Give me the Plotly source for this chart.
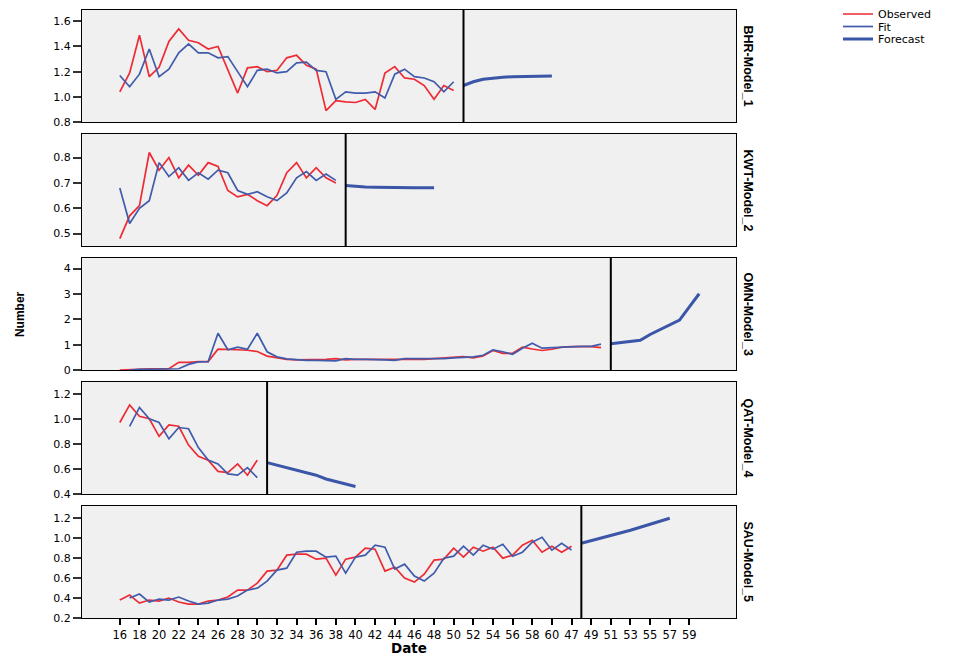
import plotly.graph_objects as go
from plotly.subplots import make_subplots

# ---- tick labels of the Date axis (one label every second period) ----
tick_labels = ["16", "18", "20", "22", "24", "26", "28", "30", "32", "34", "36", "38",
               "40", "42", "44", "46", "48", "50", "52", "54", "56", "58", "60",
               "47", "49", "51", "53", "55", "57", "59"]

# ---- BHR ----
bhr_observed = [1.04, 1.19, 1.49, 1.16, 1.235, 1.44, 1.54, 1.45, 1.43, 1.38, 1.40, 1.22,
                1.03, 1.23, 1.24, 1.20, 1.21, 1.31, 1.33, 1.25, 1.22, 0.89, 0.97, 0.96,
                0.955, 0.98, 0.90, 1.19, 1.24, 1.15, 1.14, 1.09, 0.98, 1.09, 1.05]
bhr_fit = [1.17, 1.08, 1.18, 1.38, 1.16, 1.22, 1.35, 1.42, 1.35, 1.35, 1.31, 1.32,
           1.20, 1.08, 1.21, 1.22, 1.19, 1.20, 1.27, 1.275, 1.21, 1.20, 0.98, 1.04,
           1.03, 1.03, 1.04, 0.99, 1.18, 1.22, 1.16, 1.15, 1.12, 1.04, 1.12]
bhr_forecast = [1.09, 1.12, 1.14, 1.15, 1.155, 1.16, 1.162, 1.164, 1.165, 1.166]

# ---- KWT ----
kwt_observed = [0.48, 0.57, 0.61, 0.82, 0.75, 0.80, 0.72, 0.77, 0.73, 0.78, 0.765, 0.67,
                0.645, 0.655, 0.63, 0.61, 0.65, 0.74, 0.78, 0.72, 0.76, 0.72, 0.70]
kwt_fit = [0.68, 0.54, 0.60, 0.63, 0.78, 0.725, 0.76, 0.71, 0.74, 0.715, 0.75, 0.74,
           0.67, 0.655, 0.665, 0.645, 0.63, 0.66, 0.72, 0.745, 0.71, 0.735, 0.71]
kwt_forecast = [0.69, 0.686, 0.684, 0.683, 0.682, 0.682, 0.681, 0.681, 0.681, 0.681]

# ---- OMN ----
omn_observed = [0.00, 0.02, 0.05, 0.05, 0.05, 0.05, 0.30, 0.30, 0.33, 0.33,
                0.82, 0.82, 0.80, 0.78, 0.73, 0.55, 0.47, 0.42, 0.40, 0.40,
                0.40, 0.42, 0.45, 0.40, 0.42, 0.42, 0.40, 0.42, 0.40, 0.40,
                0.42, 0.42, 0.45, 0.48, 0.50, 0.53, 0.48, 0.55, 0.77, 0.66,
                0.66, 0.90, 0.83, 0.77, 0.82, 0.90, 0.92, 0.92, 0.92, 0.88]
omn_fit = [0.00, 0.03, 0.03, 0.03, 0.03, 0.05, 0.22, 0.32, 0.33,
           1.45, 0.80, 0.90, 0.82, 1.45, 0.72, 0.52, 0.44, 0.40, 0.38,
           0.38, 0.36, 0.36, 0.45, 0.42, 0.42, 0.42, 0.40, 0.38, 0.45,
           0.45, 0.45, 0.45, 0.45, 0.48, 0.50, 0.52, 0.58, 0.79, 0.72,
           0.62, 0.86, 1.06, 0.86, 0.88, 0.90, 0.92, 0.93, 0.93, 1.02]
omn_forecast = [1.04, 1.09, 1.13, 1.17, 1.40, 1.58, 1.78, 1.97, 2.49, 3.01]

# ---- QAT ----
qat_observed = [0.97, 1.11, 1.02, 1.00, 0.86, 0.95, 0.94, 0.79, 0.70, 0.67, 0.58, 0.57,
                0.64, 0.55, 0.67]
qat_fit = [0.94, 1.09, 1.00, 0.97, 0.84, 0.93, 0.92, 0.77, 0.67, 0.64, 0.56, 0.55,
           0.61, 0.53]
qat_forecast = [0.65, 0.63, 0.61, 0.59, 0.57, 0.55, 0.52, 0.50, 0.48, 0.46]

# ---- SAU ----
sau_observed = [0.38, 0.43, 0.35, 0.38, 0.37, 0.40, 0.36, 0.34, 0.34, 0.37,
                0.38, 0.41, 0.48, 0.48, 0.55, 0.67, 0.68, 0.83, 0.84, 0.84,
                0.79, 0.80, 0.63, 0.79, 0.81, 0.90, 0.89, 0.67, 0.71, 0.60,
                0.56, 0.64, 0.78, 0.79, 0.90, 0.81, 0.91, 0.87, 0.91, 0.80,
                0.83, 0.93, 0.98, 0.86, 0.92, 0.86, 0.92]
sau_fit = [0.40, 0.44, 0.36, 0.39, 0.38, 0.41, 0.37, 0.34, 0.35,
           0.38, 0.39, 0.42, 0.48, 0.50, 0.57, 0.68, 0.70, 0.86, 0.87,
           0.87, 0.81, 0.82, 0.65, 0.81, 0.83, 0.93, 0.91, 0.69, 0.74,
           0.62, 0.57, 0.65, 0.80, 0.82, 0.92, 0.83, 0.93, 0.89, 0.94,
           0.82, 0.86, 0.96, 1.01, 0.88, 0.95, 0.88]
sau_forecast = [0.95, 0.975, 1.00, 1.025, 1.05, 1.08, 1.11, 1.14, 1.17, 1.20]

model_names = ["BHR-Model_1", "KWT-Model_2", "OMN-Model_3", "QAT-Model_4", "SAU-Model_5"]
observed_series = [bhr_observed, kwt_observed, omn_observed, qat_observed, sau_observed]
fit_series = [bhr_fit, kwt_fit, omn_fit, qat_fit, sau_fit]
forecast_series = [bhr_forecast, kwt_forecast, omn_forecast, qat_forecast, sau_forecast]

# styling
RED = "#ee2b34"
BLUE = "#405bab"
FC_BLUE = "#3b55a8"
y_ranges = [[0.8, 1.69], [0.451, 0.893], [0, 4.42], [0.40, 1.293], [0.2, 1.323]]
y_dticks = [0.2, 0.1, 1, 0.2, 0.2]
y_formats = [".1f", ".1f", "d", ".1f", ".1f"]
x_range = [-3.85, 62.75]

W, H = 956, 657
PLOT_H = 608
fig = make_subplots(rows=5, cols=1, shared_xaxes=True, vertical_spacing=12 / PLOT_H)

for i in range(5):
    r = i + 1
    obs = observed_series[i]
    fit = fit_series[i]
    fc = forecast_series[i]
    n_obs = len(obs)
    fit_start = n_obs - len(fit)
    first = (i == 0)
    fig.add_trace(go.Scatter(x=list(range(n_obs)), y=obs, mode="lines", name="Observed",
                             line=dict(color=RED, width=1.7), showlegend=first,
                             legend="legend"), row=r, col=1)
    fig.add_trace(go.Scatter(x=list(range(fit_start, n_obs)), y=fit, mode="lines", name="Fit",
                             line=dict(color=BLUE, width=1.7), showlegend=first,
                             legend="legend2"), row=r, col=1)
    fig.add_trace(go.Scatter(x=list(range(n_obs, n_obs + len(fc))), y=fc, mode="lines",
                             name="Forecast", line=dict(color=FC_BLUE, width=3),
                             showlegend=first, legend="legend3"), row=r, col=1)
    fig.add_vline(x=n_obs, line=dict(color="black", width=2), row=r, col=1)
    fig.update_yaxes(range=y_ranges[i], dtick=y_dticks[i], tick0=0, tickformat=y_formats[i],
                     row=r, col=1)
    yref = "y domain" if r == 1 else "y%d domain" % r
    fig.add_annotation(text=model_names[i], xref="paper", yref=yref, x=1.0176, y=0.5,
                       xanchor="center", yanchor="middle", textangle=90, showarrow=False,
                       font=dict(family="Liberation Sans", size=12.5,
                                 color="black", weight="bold"))

fig.update_xaxes(range=x_range, showgrid=False, zeroline=False, showline=True, mirror=True,
                 linecolor="black", linewidth=1, automargin=False)
fig.update_xaxes(tickmode="array", tickvals=list(range(0, 2 * len(tick_labels), 2)),
                 ticktext=tick_labels, ticks="outside", ticklen=6, tickwidth=1.5,
                 tickcolor="black", showticklabels=True,
                 tickfont=dict(family="DejaVu Sans", size=11.5, color="black"), row=5, col=1)
fig.update_yaxes(showgrid=False, zeroline=False, showline=True, mirror=True,
                 linecolor="black", linewidth=1, ticks="outside", ticklen=8, tickwidth=1.5,
                 tickcolor="#333333", automargin=False,
                 tickfont=dict(family="DejaVu Sans", size=11, color="black"))

fig.add_annotation(text="Number", xref="paper", yref="paper", x=-0.0947, y=0.5,
                   xanchor="center", yanchor="middle", textangle=-90, showarrow=False,
                   font=dict(family="Liberation Sans", size=12,
                             color="black", weight="bold"))
fig.add_annotation(text="Date", xref="paper", yref="paper", x=0.5, y=(618 - 647.5) / PLOT_H,
                   xanchor="center", yanchor="middle", showarrow=False, borderpad=0,
                   font=dict(family="DejaVu Sans", size=13.5, color="black", weight="bold"))

leg_common = dict(xref="container", yref="container", x=838 / W, xanchor="left",
                  yanchor="middle", bgcolor="rgba(0,0,0,0)", borderwidth=0, itemwidth=30,
                  font=dict(family="DejaVu Sans", size=11, color="black"))
fig.update_layout(
    width=W, height=H,
    margin=dict(l=82, r=219.5, t=10, b=39),
    plot_bgcolor="#f0f0f0", paper_bgcolor="white",
    legend=dict(y=1 - 14 / H, **leg_common),
    legend2=dict(y=1 - 26.5 / H, **leg_common),
    legend3=dict(y=1 - 39 / H, **leg_common),
)

fig.write_html("out.html", config={"displayModeBar": False},
               post_script="document.body.style.margin='0';"
                           "document.body.style.overflow='hidden';")
